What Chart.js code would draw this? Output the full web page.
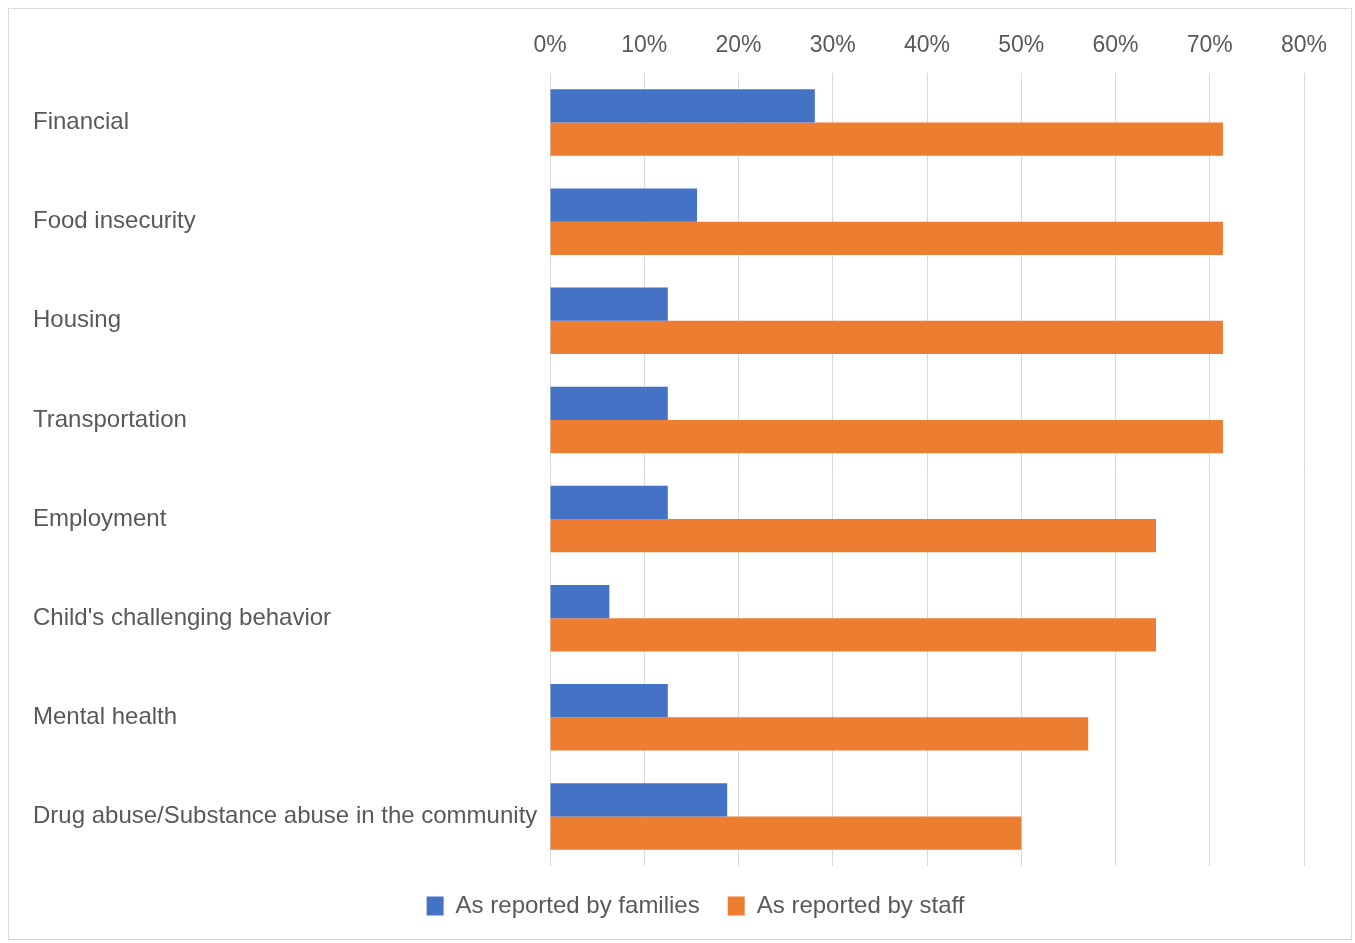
<!DOCTYPE html>
<html>
<head>
<meta charset="utf-8">
<script src="https://cdn.jsdelivr.net/npm/chart.js@4/dist/chart.umd.min.js"></script>
<style>
  html, body { margin: 0; padding: 0; background: #fff; }
  canvas { display: block; }
</style>
</head>
<body>
<canvas id="myChart" width="1355" height="943"></canvas>
<script>
// data (percent)
const categories = [
    "Financial",
    "Food insecurity",
    "Housing",
    "Transportation",
    "Employment",
    "Child's challenging behavior",
    "Mental health",
    "Drug abuse/Substance abuse in the community"
];
const familiesValues = [28.1, 15.6, 12.5, 12.5, 12.5, 6.3, 12.5, 18.8];
const staffValues = [71.4, 71.4, 71.4, 71.4, 64.3, 64.3, 57.1, 50.0];
const seriesNames = ["As reported by families", "As reported by staff"];
const tickMax = 80;
const tickStep = 10;

const textColor = '#595959';
const fontFamily = "'Liberation Sans', Arial, sans-serif";

// light frame round the whole chart, and nudge the legend to where it sits in the original
const framePlugin = {
    id: 'frame',
    afterLayout(chart) {
        chart.legend.left += 27;
        chart.legend.right += 27;
    },
    beforeDraw(chart) {
        const ctx = chart.ctx;
        ctx.save();
        ctx.fillStyle = '#fff';
        ctx.fillRect(0, 0, chart.width, chart.height);
        ctx.strokeStyle = '#d9d9d9';
        ctx.lineWidth = 1;
        ctx.strokeRect(8.5, 8.5, 1343, 931);
        ctx.restore();
    }
};

const ctx = document.getElementById('myChart').getContext('2d');
const myChart = new Chart(ctx, {
    type: 'bar',
    data: {
        labels: categories,
        datasets: [{
            label: seriesNames[0],
            data: familiesValues,
            backgroundColor: '#4472C4',
            categoryPercentage: 0.67,
            barPercentage: 1.0
        }, {
            label: seriesNames[1],
            data: staffValues,
            backgroundColor: '#ED7D31',
            categoryPercentage: 0.67,
            barPercentage: 1.0
        }]
    },
    options: {
        indexAxis: 'y',
        responsive: false,
        animation: false,
        layout: {
            padding: { left: 33, right: 51, top: 28, bottom: 15 }
        },
        scales: {
            x: {
                position: 'top',
                min: 0,
                max: tickMax,
                ticks: {
                    stepSize: tickStep,
                    padding: 14,
                    color: textColor,
                    font: { family: fontFamily, size: 23 },
                    callback: function (v) { return v + '%'; }
                },
                grid: { color: '#d9d9d9', lineWidth: 1, drawTicks: false },
                border: { display: false },
                afterFit: function (scale) { scale.height = 45; }
            },
            y: {
                ticks: {
                    crossAlign: 'far',
                    color: textColor,
                    font: { family: fontFamily, size: 24 }
                },
                grid: { display: false },
                border: { display: false },
                afterFit: function (scale) { scale.width = 517; }
            }
        },
        plugins: {
            legend: {
                position: 'bottom',
                labels: {
                    boxWidth: 17,
                    boxHeight: 19,
                    padding: 28,
                    color: textColor,
                    font: { family: fontFamily, size: 24 }
                }
            },
            tooltip: { enabled: false }
        }
    },
    plugins: [framePlugin]
});
</script>
</body>
</html>
